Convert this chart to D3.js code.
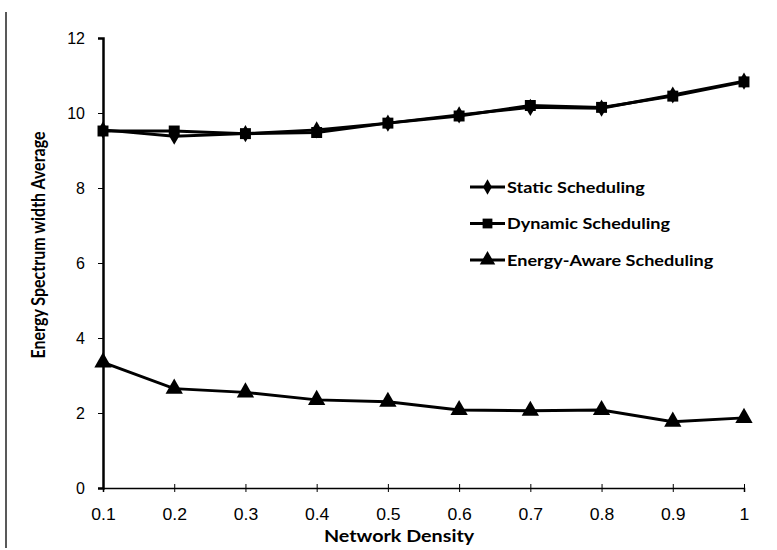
<!DOCTYPE html>
<html>
<head>
<meta charset="utf-8">
<script src="https://cdn.jsdelivr.net/npm/d3@7"></script>
<style>
  body { margin: 0; background: #ffffff; }
  svg { font-family: Lato, "Open Sans", sans-serif; }
</style>
</head>
<body>
<div id="mydiv"></div>
<script>
const width = 777,
  height = 550;

// data
const density = [0.1, 0.2, 0.3, 0.4, 0.5, 0.6, 0.7, 0.8, 0.9, 1];
const staticSched = [9.55, 9.38, 9.45, 9.55, 9.73, 9.95, 10.15, 10.13, 10.48, 10.85];
const dynamicSched = [9.52, 9.52, 9.45, 9.48, 9.73, 9.92, 10.2, 10.15, 10.45, 10.83];
const energyAware = [3.35, 2.65, 2.55, 2.35, 2.3, 2.08, 2.06, 2.08, 1.77, 1.87];
const yTicks = [0, 2, 4, 6, 8, 10, 12];
const seriesNames = ["Static Scheduling", "Dynamic Scheduling", "Energy-Aware Scheduling"];
const markers = [d3.symbolDiamond, d3.symbolSquare, d3.symbolTriangle];
const markerSizes = [85, 120, 130];

const series = [staticSched, dynamicSched, energyAware];

let svg = d3
  .select("#mydiv")
  .append("svg")
  .attr("width", width)
  .attr("height", height);

svg.append("rect").attr("width", width).attr("height", height).attr("fill", "#fff");

// scan border on the left
svg
  .append("line")
  .attr("x1", 6).attr("x2", 6)
  .attr("y1", 12).attr("y2", 548)
  .attr("stroke", "#222")
  .attr("stroke-width", 1.5);

let xScale = d3.scaleLinear().domain([0.1, 1]).range([103, 744]);
let yScale = d3.scaleLinear().domain([0, 12]).range([488, 38]);

// X axis
let xAxis = d3.axisBottom(xScale)
  .tickValues(density)
  .tickSize(4)
  .tickPadding(17)
  .tickFormat(d3.format("~g"));

let gx = svg
  .append("g")
  .attr("transform", `translate(0, ${yScale(0)})`)
  .call(xAxis);
gx.select(".domain").attr("stroke", "#000").attr("stroke-width", 1.5);
gx.selectAll(".tick line").attr("stroke", "#000").attr("y1", -4);
gx.selectAll(".tick text")
  .attr("fill", "#000")
  .attr("transform", "scale(1.1,1)")
  .style("font-size", "16px");

// Y axis
let yAxis = d3.axisLeft(yScale)
  .tickValues(yTicks)
  .tickSize(5)
  .tickPadding(13);

let gy = svg
  .append("g")
  .attr("transform", `translate(${xScale(0.1)}, 0)`)
  .call(yAxis);
gy.select(".domain").attr("stroke", "#000").attr("stroke-width", 2.5);
gy.selectAll(".tick line").attr("stroke", "#000");
gy.selectAll(".tick text")
  .attr("fill", "#000")
  .style("font-size", "16px");

// axis titles
svg
  .append("text")
  .attr("transform", "translate(399, 542) scale(1.16,1)")
  .attr("text-anchor", "middle")
  .style("font-size", "17px")
  .style("font-weight", "bold")
  .text("Network Density");

svg
  .append("text")
  .attr("transform", `translate(45, 245) rotate(-90) scale(1,1.15)`)
  .attr("text-anchor", "middle")
  .style("font-size", "16px")
  .style("font-weight", "bold")
  .text("Energy Spectrum width Average");

// lines
let line = d3
  .line()
  .x((d, i) => xScale(density[i]))
  .y((d) => yScale(d));

series.forEach((values, id) => {
  svg
    .append("path")
    .attr("d", line(values))
    .attr("fill", "none")
    .attr("stroke", "#000")
    .attr("stroke-width", 3);

  svg
    .append("g")
    .selectAll("path")
    .data(values)
    .enter()
    .append("path")
    .attr("d", d3.symbol().type(markers[id]).size(markerSizes[id]))
    .attr("transform", (d, i) => `translate(${xScale(density[i])}, ${yScale(d)})`)
    .attr("fill", "#000");
});

// legend
let legend = svg
  .selectAll(".legend")
  .data(seriesNames)
  .enter()
  .append("g")
  .attr("class", "legend")
  .attr("transform", (d, i) => `translate(470, ${187 + i * 36.5})`);

legend
  .append("line")
  .attr("x1", 0).attr("x2", 35)
  .attr("stroke", "#000")
  .attr("stroke-width", 3);

legend
  .append("path")
  .attr("d", (d, i) => d3.symbol().type(markers[i]).size(markerSizes[i] * 0.8)())
  .attr("transform", "translate(17.5, 0)")
  .attr("fill", "#000");

legend
  .append("text")
  .attr("transform", "translate(37, 5.5) scale(1.13,1)")
  .style("font-size", "16px")
  .style("font-weight", "bold")
  .text((d) => d);
</script>
</body>
</html>
